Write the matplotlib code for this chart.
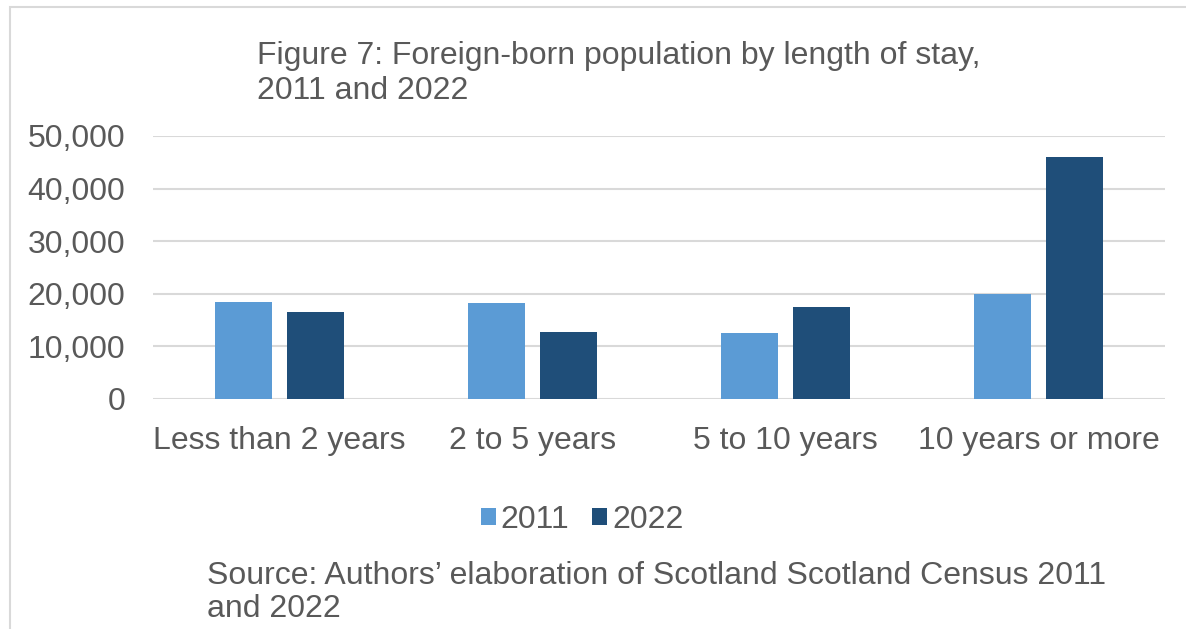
import matplotlib.pyplot as plt
import matplotlib.patches as mpatches
import numpy as np

plt.rcParams['font.family'] = ['Liberation Sans', 'DejaVu Sans']

categories = ["Less than 2 years", "2 to 5 years", "5 to 10 years", "10 years or more"]
years = ["2011", "2022"]
values_2011 = [18400, 18200, 12500, 20000]
values_2022 = [16500, 12800, 17400, 46100]
y_ticks = [0, 10000, 20000, 30000, 40000, 50000]

text_color = "#595959"
colors = ["#5B9BD5", "#1F4E79"]
fs = 23

W, H = 1186, 629
fig = plt.figure(figsize=(W / 100, H / 100), dpi=100)
ax = fig.add_axes([153 / W, 1 - 399 / H, (1165 - 153) / W, (399 - 136) / H])

x = np.arange(len(categories))
bar_w = 0.225
offset = 0.1425
ax.bar(x - offset, values_2011, width=bar_w, color=colors[0], label=years[0], zorder=3)
ax.bar(x + offset, values_2022, width=bar_w, color=colors[1], label=years[1], zorder=3)

ax.set_xlim(-0.5, len(categories) - 0.5)
ax.set_ylim(0, 50000)
ax.set_yticks(y_ticks)
ax.set_yticklabels([f"{v:,}" for v in y_ticks])
ax.set_xticks(x)
ax.set_xticklabels(categories)
ax.tick_params(axis='both', length=0, labelsize=fs, colors=text_color)
ax.tick_params(axis='y', pad=20)
ax.tick_params(axis='x', pad=19.5)
ax.grid(axis='y', color="#D9D9D9", linewidth=1.5, zorder=0)
for s in ax.spines.values():
    s.set_visible(False)

# title and source note, one line at a time
title_lines = ["Figure 7: Foreign-born population by length of stay,", "2011 and 2022"]
for line, yc in zip(title_lines, [56, 91]):
    fig.text(257 / W, 1 - yc / H, line, fontsize=fs, color=text_color, ha='left', va='center')
source_lines = ["Source: Authors’ elaboration of Scotland Scotland Census 2011", "and 2022"]
for line, yc in zip(source_lines, [576, 609]):
    fig.text(207 / W, 1 - yc / H, line, fontsize=fs, color=text_color, ha='left', va='center')

fig.legend(loc='center', bbox_to_anchor=(582 / W, 1 - 520 / H), ncol=2, frameon=False,
           fontsize=fs, labelcolor=text_color, handlelength=0.47, handleheight=0.47,
           handletextpad=0.16, columnspacing=0.7)

# light frame around the chart area
fig.patches.append(mpatches.Rectangle((10 / W, -0.1), 1.2, 1 - 7 / H + 0.1,
                                      transform=fig.transFigure, fill=False,
                                      edgecolor="#D9D9D9", linewidth=1.5))

fig.savefig("out.png", dpi=100, facecolor="white")
